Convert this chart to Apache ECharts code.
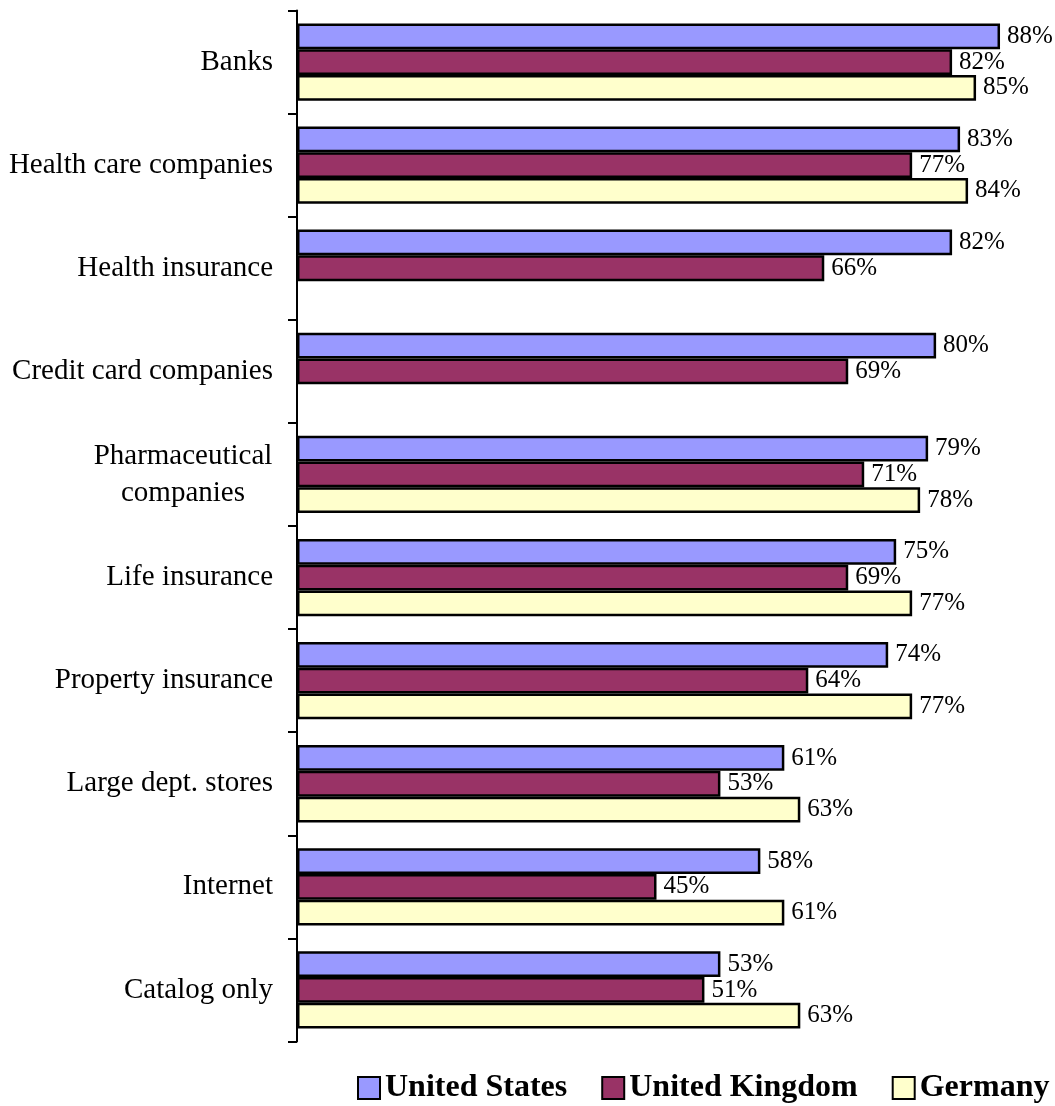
<!DOCTYPE html>
<html>
<head>
<meta charset="utf-8">
<title>Trust by industry</title>
<script src="https://cdn.jsdelivr.net/npm/echarts@6/dist/echarts.min.js"></script>
<style>
  html, body { margin: 0; padding: 0; background: #fff; }
  #chart { width: 1055px; height: 1106px; }
</style>
</head>
<body>
<div id="chart"></div>
<script>
// Industries, top to bottom
const categories = [
  'Banks',
  'Health care companies',
  'Health insurance',
  'Credit card companies',
  'Pharmaceutical\ncompanies',
  'Life insurance',
  'Property insurance',
  'Large dept. stores',
  'Internet',
  'Catalog only'
];

// Percent values per country (null = not surveyed)
const unitedStates  = [88, 83, 82, 80, 79, 75, 74, 61, 58, 53];
const unitedKingdom = [82, 77, 66, 69, 71, 69, 64, 53, 45, 51];
const germany       = [85, 84, null, null, 78, 77, 77, 63, 61, 63];

const seriesNames = ['United States', 'United Kingdom', 'Germany'];
const seriesColors = ['#9999FF', '#993366', '#FFFFCC'];

const FONT = '"Liberation Serif", "Times New Roman", serif';

function barSeries(name, data, color) {
  return {
    name: name,
    type: 'bar',
    data: data,
    barGap: '0%',
    barCategoryGap: '25%',
    itemStyle: { color: color, borderColor: '#000', borderWidth: 2.5 },
    label: {
      show: true,
      position: 'right',
      distance: 7,
      formatter: '{c}%',
      color: '#000',
      fontFamily: FONT,
      fontSize: 25
    },
    emphasis: { disabled: true }
  };
}

const chart = echarts.init(document.getElementById('chart'), null, { renderer: 'canvas' });

chart.setOption({
  animation: false,
  backgroundColor: '#fff',
  grid: { left: 297, top: 10.5, width: 719, height: 1031, containLabel: false },
  xAxis: {
    type: 'value',
    min: 0,
    max: 90,
    show: false
  },
  yAxis: {
    type: 'category',
    data: categories,
    inverse: true,
    boundaryGap: true,
    axisLine: { show: true, lineStyle: { color: '#000', width: 2 } },
    axisTick: { show: true, interval: 0, length: 9, lineStyle: { color: '#000', width: 2 } },
    axisLabel: {
      interval: 0,
      margin: 24,
      color: '#000',
      fontFamily: FONT,
      fontSize: 29,
      formatter: function (v) {
        if (v.indexOf('\n') >= 0) {
          return v.split('\n').map(function (s) { return '{c|' + s + '}'; }).join('\n');
        }
        return v;
      },
      rich: {
        c: {
          width: 180,
          align: 'center',
          lineHeight: 37,
          fontFamily: FONT,
          fontSize: 29,
          color: '#000'
        }
      }
    },
    splitLine: { show: false }
  },
  legend: {
    data: seriesNames,
    left: 357,
    top: 1072,
    width: 760,
    padding: 0,
    icon: 'rect',
    itemWidth: 22,
    itemHeight: 22,
    itemGap: 34,
    textStyle: {
      color: '#000',
      fontFamily: FONT,
      fontSize: 32,
      fontWeight: 'bold'
    }
  },
  series: [
    barSeries(seriesNames[0], unitedStates, seriesColors[0]),
    barSeries(seriesNames[1], unitedKingdom, seriesColors[1]),
    barSeries(seriesNames[2], germany, seriesColors[2])
  ]
});
</script>
</body>
</html>
